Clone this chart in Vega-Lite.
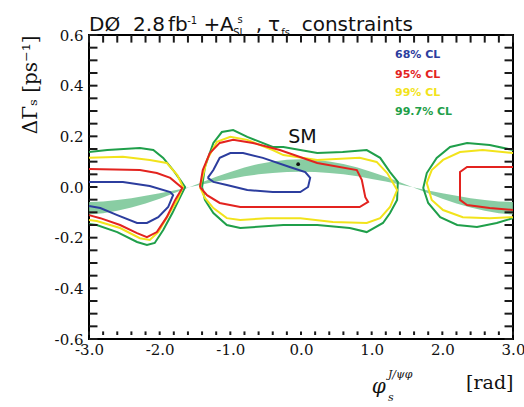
{
 "$schema": "https://vega.github.io/schema/vega-lite/v6.json",
 "width": 424, "height": 304,
 "autosize": {"type": "none"},
 "padding": {"left": 89, "top": 35, "right": 11, "bottom": 68},
 "background": "white",
 "config": {
  "view": {"stroke": "black", "strokeWidth": 2},
  "axis": {"grid": false, "domain": false, "labelFont": "DejaVu Serif", "titleFont": "DejaVu Serif", "labelColor": "#111", "titleColor": "#111", "titleFontWeight": "normal", "labelFlush": false, "labelOverlap": false},
  "text": {"font": "DejaVu Sans"}
 },
 "datasets": {
  "band": [
   {"x": -3.0, "lo": -0.059, "hi": -0.109}, {"x": -2.8, "lo": -0.057, "hi": -0.104}, {"x": -2.6, "lo": -0.051, "hi": -0.094},
   {"x": -2.4, "lo": -0.044, "hi": -0.081}, {"x": -2.2, "lo": -0.035, "hi": -0.065}, {"x": -2.0, "lo": -0.025, "hi": -0.046},
   {"x": -1.8, "lo": -0.014, "hi": -0.025}, {"x": -1.6, "lo": -0.002, "hi": -0.003}, {"x": -1.4, "lo": 0.010, "hi": 0.019},
   {"x": -1.2, "lo": 0.022, "hi": 0.040}, {"x": -1.0, "lo": 0.032, "hi": 0.059}, {"x": -0.8, "lo": 0.042, "hi": 0.077},
   {"x": -0.6, "lo": 0.050, "hi": 0.091}, {"x": -0.4, "lo": 0.055, "hi": 0.101}, {"x": -0.2, "lo": 0.059, "hi": 0.108},
   {"x": 0.0, "lo": 0.060, "hi": 0.110}, {"x": 0.2, "lo": 0.059, "hi": 0.108}, {"x": 0.4, "lo": 0.055, "hi": 0.101},
   {"x": 0.6, "lo": 0.050, "hi": 0.091}, {"x": 0.8, "lo": 0.042, "hi": 0.077}, {"x": 1.0, "lo": 0.032, "hi": 0.059},
   {"x": 1.2, "lo": 0.022, "hi": 0.040}, {"x": 1.4, "lo": 0.010, "hi": 0.019}, {"x": 1.6, "lo": -0.002, "hi": -0.003},
   {"x": 1.8, "lo": -0.014, "hi": -0.025}, {"x": 2.0, "lo": -0.025, "hi": -0.046}, {"x": 2.2, "lo": -0.035, "hi": -0.065},
   {"x": 2.4, "lo": -0.044, "hi": -0.081}, {"x": 2.6, "lo": -0.051, "hi": -0.094}, {"x": 2.8, "lo": -0.057, "hi": -0.104},
   {"x": 3.0, "lo": -0.059, "hi": -0.109}
  ],
  "xticks": [
   {"v": -3.0, "k": "major"}, {"v": -2.8, "k": "minor"}, {"v": -2.6, "k": "minor"}, {"v": -2.4, "k": "minor"}, {"v": -2.2, "k": "minor"},
   {"v": -2.0, "k": "major"}, {"v": -1.8, "k": "minor"}, {"v": -1.6, "k": "minor"}, {"v": -1.4, "k": "minor"}, {"v": -1.2, "k": "minor"},
   {"v": -1.0, "k": "major"}, {"v": -0.8, "k": "minor"}, {"v": -0.6, "k": "minor"}, {"v": -0.4, "k": "minor"}, {"v": -0.2, "k": "minor"},
   {"v": 0.0, "k": "major"}, {"v": 0.2, "k": "minor"}, {"v": 0.4, "k": "minor"}, {"v": 0.6, "k": "minor"}, {"v": 0.8, "k": "minor"},
   {"v": 1.0, "k": "major"}, {"v": 1.2, "k": "minor"}, {"v": 1.4, "k": "minor"}, {"v": 1.6, "k": "minor"}, {"v": 1.8, "k": "minor"},
   {"v": 2.0, "k": "major"}, {"v": 2.2, "k": "minor"}, {"v": 2.4, "k": "minor"}, {"v": 2.6, "k": "minor"}, {"v": 2.8, "k": "minor"},
   {"v": 3.0, "k": "major"}
  ],
  "yticks": [
   {"v": -0.6, "k": "major"}, {"v": -0.55, "k": "minor"}, {"v": -0.5, "k": "minor"}, {"v": -0.45, "k": "minor"},
   {"v": -0.4, "k": "major"}, {"v": -0.35, "k": "minor"}, {"v": -0.3, "k": "minor"}, {"v": -0.25, "k": "minor"},
   {"v": -0.2, "k": "major"}, {"v": -0.15, "k": "minor"}, {"v": -0.1, "k": "minor"}, {"v": -0.05, "k": "minor"},
   {"v": 0.0, "k": "major"}, {"v": 0.05, "k": "minor"}, {"v": 0.1, "k": "minor"}, {"v": 0.15, "k": "minor"},
   {"v": 0.2, "k": "major"}, {"v": 0.25, "k": "minor"}, {"v": 0.3, "k": "minor"}, {"v": 0.35, "k": "minor"},
   {"v": 0.4, "k": "major"}, {"v": 0.45, "k": "minor"}, {"v": 0.5, "k": "minor"}, {"v": 0.55, "k": "minor"},
   {"v": 0.6, "k": "major"}
  ],
  "contours": [
   {"s": "gL", "l": "99.7% CL", "i": 0, "x": -3.0, "y": 0.138}, {"s": "gL", "l": "99.7% CL", "i": 1, "x": -2.74, "y": 0.146},
   {"s": "gL", "l": "99.7% CL", "i": 2, "x": -2.28, "y": 0.154}, {"s": "gL", "l": "99.7% CL", "i": 3, "x": -2.09, "y": 0.146},
   {"s": "gL", "l": "99.7% CL", "i": 4, "x": -1.95, "y": 0.115}, {"s": "gL", "l": "99.7% CL", "i": 5, "x": -1.81, "y": 0.067},
   {"s": "gL", "l": "99.7% CL", "i": 6, "x": -1.71, "y": 0.028}, {"s": "gL", "l": "99.7% CL", "i": 7, "x": -1.64, "y": 0.0},
   {"s": "gL", "l": "99.7% CL", "i": 8, "x": -1.71, "y": -0.040}, {"s": "gL", "l": "99.7% CL", "i": 9, "x": -1.82, "y": -0.103},
   {"s": "gL", "l": "99.7% CL", "i": 10, "x": -1.95, "y": -0.170}, {"s": "gL", "l": "99.7% CL", "i": 11, "x": -2.07, "y": -0.221},
   {"s": "gL", "l": "99.7% CL", "i": 12, "x": -2.18, "y": -0.229}, {"s": "gL", "l": "99.7% CL", "i": 13, "x": -2.32, "y": -0.217},
   {"s": "gL", "l": "99.7% CL", "i": 14, "x": -2.60, "y": -0.178}, {"s": "gL", "l": "99.7% CL", "i": 15, "x": -2.89, "y": -0.150},
   {"s": "gL", "l": "99.7% CL", "i": 16, "x": -3.0, "y": -0.146},

   {"s": "gC", "l": "99.7% CL", "i": 0, "x": -1.40, "y": 0.0}, {"s": "gC", "l": "99.7% CL", "i": 1, "x": -1.36, "y": 0.079},
   {"s": "gC", "l": "99.7% CL", "i": 2, "x": -1.24, "y": 0.174}, {"s": "gC", "l": "99.7% CL", "i": 3, "x": -1.12, "y": 0.217},
   {"s": "gC", "l": "99.7% CL", "i": 4, "x": -0.96, "y": 0.225}, {"s": "gC", "l": "99.7% CL", "i": 5, "x": -0.76, "y": 0.198},
   {"s": "gC", "l": "99.7% CL", "i": 6, "x": -0.40, "y": 0.158}, {"s": "gC", "l": "99.7% CL", "i": 7, "x": -0.25, "y": 0.158},
   {"s": "gC", "l": "99.7% CL", "i": 8, "x": 0.23, "y": 0.134}, {"s": "gC", "l": "99.7% CL", "i": 9, "x": 0.59, "y": 0.138},
   {"s": "gC", "l": "99.7% CL", "i": 10, "x": 0.93, "y": 0.146}, {"s": "gC", "l": "99.7% CL", "i": 11, "x": 1.12, "y": 0.115},
   {"s": "gC", "l": "99.7% CL", "i": 12, "x": 1.26, "y": 0.059}, {"s": "gC", "l": "99.7% CL", "i": 13, "x": 1.37, "y": 0.020},
   {"s": "gC", "l": "99.7% CL", "i": 14, "x": 1.36, "y": -0.051}, {"s": "gC", "l": "99.7% CL", "i": 15, "x": 1.26, "y": -0.103},
   {"s": "gC", "l": "99.7% CL", "i": 16, "x": 1.16, "y": -0.142}, {"s": "gC", "l": "99.7% CL", "i": 17, "x": 0.93, "y": -0.178},
   {"s": "gC", "l": "99.7% CL", "i": 18, "x": 0.69, "y": -0.162}, {"s": "gC", "l": "99.7% CL", "i": 19, "x": 0.23, "y": -0.150},
   {"s": "gC", "l": "99.7% CL", "i": 20, "x": -0.25, "y": -0.150}, {"s": "gC", "l": "99.7% CL", "i": 21, "x": -0.86, "y": -0.162},
   {"s": "gC", "l": "99.7% CL", "i": 22, "x": -1.05, "y": -0.150}, {"s": "gC", "l": "99.7% CL", "i": 23, "x": -1.24, "y": -0.103},
   {"s": "gC", "l": "99.7% CL", "i": 24, "x": -1.36, "y": -0.051}, {"s": "gC", "l": "99.7% CL", "i": 25, "x": -1.40, "y": 0.0},

   {"s": "gR", "l": "99.7% CL", "i": 0, "x": 3.0, "y": 0.146}, {"s": "gR", "l": "99.7% CL", "i": 1, "x": 2.67, "y": 0.166},
   {"s": "gR", "l": "99.7% CL", "i": 2, "x": 2.35, "y": 0.174}, {"s": "gR", "l": "99.7% CL", "i": 3, "x": 2.11, "y": 0.158},
   {"s": "gR", "l": "99.7% CL", "i": 4, "x": 1.92, "y": 0.115}, {"s": "gR", "l": "99.7% CL", "i": 5, "x": 1.78, "y": 0.055},
   {"s": "gR", "l": "99.7% CL", "i": 6, "x": 1.73, "y": -0.004}, {"s": "gR", "l": "99.7% CL", "i": 7, "x": 1.80, "y": -0.063},
   {"s": "gR", "l": "99.7% CL", "i": 8, "x": 1.97, "y": -0.119}, {"s": "gR", "l": "99.7% CL", "i": 9, "x": 2.21, "y": -0.150},
   {"s": "gR", "l": "99.7% CL", "i": 10, "x": 2.49, "y": -0.158}, {"s": "gR", "l": "99.7% CL", "i": 11, "x": 2.77, "y": -0.142},
   {"s": "gR", "l": "99.7% CL", "i": 12, "x": 3.0, "y": -0.123},

   {"s": "yL", "l": "99% CL", "i": 0, "x": -3.0, "y": 0.115}, {"s": "yL", "l": "99% CL", "i": 1, "x": -2.52, "y": 0.119},
   {"s": "yL", "l": "99% CL", "i": 2, "x": -2.14, "y": 0.107}, {"s": "yL", "l": "99% CL", "i": 3, "x": -1.90, "y": 0.095},
   {"s": "yL", "l": "99% CL", "i": 4, "x": -1.75, "y": 0.047}, {"s": "yL", "l": "99% CL", "i": 5, "x": -1.67, "y": 0.0},
   {"s": "yL", "l": "99% CL", "i": 6, "x": -1.75, "y": -0.051}, {"s": "yL", "l": "99% CL", "i": 7, "x": -1.88, "y": -0.111},
   {"s": "yL", "l": "99% CL", "i": 8, "x": -2.02, "y": -0.178}, {"s": "yL", "l": "99% CL", "i": 9, "x": -2.14, "y": -0.209},
   {"s": "yL", "l": "99% CL", "i": 10, "x": -2.28, "y": -0.202}, {"s": "yL", "l": "99% CL", "i": 11, "x": -2.56, "y": -0.162},
   {"s": "yL", "l": "99% CL", "i": 12, "x": -2.89, "y": -0.134}, {"s": "yL", "l": "99% CL", "i": 13, "x": -3.0, "y": -0.130},

   {"s": "yC", "l": "99% CL", "i": 0, "x": -1.43, "y": 0.0}, {"s": "yC", "l": "99% CL", "i": 1, "x": -1.33, "y": 0.107},
   {"s": "yC", "l": "99% CL", "i": 2, "x": -1.19, "y": 0.178}, {"s": "yC", "l": "99% CL", "i": 3, "x": -1.00, "y": 0.198},
   {"s": "yC", "l": "99% CL", "i": 4, "x": -0.76, "y": 0.186}, {"s": "yC", "l": "99% CL", "i": 5, "x": -0.40, "y": 0.146},
   {"s": "yC", "l": "99% CL", "i": 6, "x": -0.25, "y": 0.126}, {"s": "yC", "l": "99% CL", "i": 7, "x": 0.23, "y": 0.107},
   {"s": "yC", "l": "99% CL", "i": 8, "x": 0.83, "y": 0.115}, {"s": "yC", "l": "99% CL", "i": 9, "x": 1.07, "y": 0.099},
   {"s": "yC", "l": "99% CL", "i": 10, "x": 1.22, "y": 0.055}, {"s": "yC", "l": "99% CL", "i": 11, "x": 1.36, "y": -0.012},
   {"s": "yC", "l": "99% CL", "i": 12, "x": 1.26, "y": -0.079}, {"s": "yC", "l": "99% CL", "i": 13, "x": 1.12, "y": -0.123},
   {"s": "yC", "l": "99% CL", "i": 14, "x": 0.93, "y": -0.142}, {"s": "yC", "l": "99% CL", "i": 15, "x": 0.45, "y": -0.138},
   {"s": "yC", "l": "99% CL", "i": 16, "x": -0.01, "y": -0.123}, {"s": "yC", "l": "99% CL", "i": 17, "x": -0.48, "y": -0.123},
   {"s": "yC", "l": "99% CL", "i": 18, "x": -0.86, "y": -0.130}, {"s": "yC", "l": "99% CL", "i": 19, "x": -1.05, "y": -0.123},
   {"s": "yC", "l": "99% CL", "i": 20, "x": -1.24, "y": -0.083}, {"s": "yC", "l": "99% CL", "i": 21, "x": -1.36, "y": -0.043},
   {"s": "yC", "l": "99% CL", "i": 22, "x": -1.43, "y": 0.0},

   {"s": "yR", "l": "99% CL", "i": 0, "x": 3.0, "y": 0.134}, {"s": "yR", "l": "99% CL", "i": 1, "x": 2.57, "y": 0.146},
   {"s": "yR", "l": "99% CL", "i": 2, "x": 2.25, "y": 0.138}, {"s": "yR", "l": "99% CL", "i": 3, "x": 2.01, "y": 0.107},
   {"s": "yR", "l": "99% CL", "i": 4, "x": 1.85, "y": 0.067}, {"s": "yR", "l": "99% CL", "i": 5, "x": 1.78, "y": 0.016},
   {"s": "yR", "l": "99% CL", "i": 6, "x": 1.85, "y": -0.051}, {"s": "yR", "l": "99% CL", "i": 7, "x": 2.01, "y": -0.091},
   {"s": "yR", "l": "99% CL", "i": 8, "x": 2.29, "y": -0.119}, {"s": "yR", "l": "99% CL", "i": 9, "x": 2.67, "y": -0.123},
   {"s": "yR", "l": "99% CL", "i": 10, "x": 3.0, "y": -0.119},

   {"s": "rL", "l": "95% CL", "i": 0, "x": -3.0, "y": 0.071}, {"s": "rL", "l": "95% CL", "i": 1, "x": -2.28, "y": 0.067},
   {"s": "rL", "l": "95% CL", "i": 2, "x": -2.04, "y": 0.055}, {"s": "rL", "l": "95% CL", "i": 3, "x": -1.85, "y": 0.036},
   {"s": "rL", "l": "95% CL", "i": 4, "x": -1.68, "y": -0.004}, {"s": "rL", "l": "95% CL", "i": 5, "x": -1.78, "y": -0.051},
   {"s": "rL", "l": "95% CL", "i": 6, "x": -1.90, "y": -0.119}, {"s": "rL", "l": "95% CL", "i": 7, "x": -2.04, "y": -0.178},
   {"s": "rL", "l": "95% CL", "i": 8, "x": -2.18, "y": -0.198}, {"s": "rL", "l": "95% CL", "i": 9, "x": -2.32, "y": -0.182},
   {"s": "rL", "l": "95% CL", "i": 10, "x": -2.56, "y": -0.150}, {"s": "rL", "l": "95% CL", "i": 11, "x": -2.84, "y": -0.123},
   {"s": "rL", "l": "95% CL", "i": 12, "x": -3.0, "y": -0.111},

   {"s": "rC", "l": "95% CL", "i": 0, "x": -1.43, "y": 0.0}, {"s": "rC", "l": "95% CL", "i": 1, "x": -1.39, "y": 0.067},
   {"s": "rC", "l": "95% CL", "i": 2, "x": -1.29, "y": 0.134}, {"s": "rC", "l": "95% CL", "i": 3, "x": -1.15, "y": 0.174},
   {"s": "rC", "l": "95% CL", "i": 4, "x": -0.96, "y": 0.186}, {"s": "rC", "l": "95% CL", "i": 5, "x": -0.68, "y": 0.174},
   {"s": "rC", "l": "95% CL", "i": 6, "x": -0.30, "y": 0.146}, {"s": "rC", "l": "95% CL", "i": 7, "x": 0.23, "y": 0.095},
   {"s": "rC", "l": "95% CL", "i": 8, "x": 0.79, "y": 0.067}, {"s": "rC", "l": "95% CL", "i": 9, "x": 0.86, "y": 0.028},
   {"s": "rC", "l": "95% CL", "i": 10, "x": 0.91, "y": -0.040}, {"s": "rC", "l": "95% CL", "i": 11, "x": 0.95, "y": -0.059},
   {"s": "rC", "l": "95% CL", "i": 12, "x": 0.83, "y": -0.079}, {"s": "rC", "l": "95% CL", "i": 13, "x": 0.23, "y": -0.079},
   {"s": "rC", "l": "95% CL", "i": 14, "x": -0.25, "y": -0.079}, {"s": "rC", "l": "95% CL", "i": 15, "x": -0.86, "y": -0.079},
   {"s": "rC", "l": "95% CL", "i": 16, "x": -1.15, "y": -0.063}, {"s": "rC", "l": "95% CL", "i": 17, "x": -1.33, "y": -0.032},
   {"s": "rC", "l": "95% CL", "i": 18, "x": -1.43, "y": 0.0},

   {"s": "rR", "l": "95% CL", "i": 0, "x": 3.0, "y": 0.079}, {"s": "rR", "l": "95% CL", "i": 1, "x": 2.35, "y": 0.079},
   {"s": "rR", "l": "95% CL", "i": 2, "x": 2.25, "y": 0.059}, {"s": "rR", "l": "95% CL", "i": 3, "x": 2.25, "y": -0.051},
   {"s": "rR", "l": "95% CL", "i": 4, "x": 2.35, "y": -0.071}, {"s": "rR", "l": "95% CL", "i": 5, "x": 2.67, "y": -0.083},
   {"s": "rR", "l": "95% CL", "i": 6, "x": 3.0, "y": -0.091},

   {"s": "bL", "l": "68% CL", "i": 0, "x": -3.0, "y": 0.020}, {"s": "bL", "l": "68% CL", "i": 1, "x": -2.52, "y": 0.020},
   {"s": "bL", "l": "68% CL", "i": 2, "x": -2.14, "y": 0.004}, {"s": "bL", "l": "68% CL", "i": 3, "x": -1.85, "y": -0.020},
   {"s": "bL", "l": "68% CL", "i": 4, "x": -1.81, "y": -0.032}, {"s": "bL", "l": "68% CL", "i": 5, "x": -1.88, "y": -0.079},
   {"s": "bL", "l": "68% CL", "i": 6, "x": -2.02, "y": -0.119}, {"s": "bL", "l": "68% CL", "i": 7, "x": -2.18, "y": -0.142},
   {"s": "bL", "l": "68% CL", "i": 8, "x": -2.32, "y": -0.142}, {"s": "bL", "l": "68% CL", "i": 9, "x": -2.60, "y": -0.111},
   {"s": "bL", "l": "68% CL", "i": 10, "x": -2.84, "y": -0.083}, {"s": "bL", "l": "68% CL", "i": 11, "x": -3.0, "y": -0.075},

   {"s": "bC", "l": "68% CL", "i": 0, "x": -1.32, "y": 0.036}, {"s": "bC", "l": "68% CL", "i": 1, "x": -1.24, "y": 0.067},
   {"s": "bC", "l": "68% CL", "i": 2, "x": -1.15, "y": 0.115}, {"s": "bC", "l": "68% CL", "i": 3, "x": -1.00, "y": 0.134},
   {"s": "bC", "l": "68% CL", "i": 4, "x": -0.82, "y": 0.134}, {"s": "bC", "l": "68% CL", "i": 5, "x": -0.54, "y": 0.115},
   {"s": "bC", "l": "68% CL", "i": 6, "x": -0.16, "y": 0.079}, {"s": "bC", "l": "68% CL", "i": 7, "x": 0.06, "y": 0.059},
   {"s": "bC", "l": "68% CL", "i": 8, "x": 0.13, "y": 0.036}, {"s": "bC", "l": "68% CL", "i": 9, "x": 0.10, "y": 0.0},
   {"s": "bC", "l": "68% CL", "i": 10, "x": -0.01, "y": -0.020}, {"s": "bC", "l": "68% CL", "i": 11, "x": -0.40, "y": -0.020},
   {"s": "bC", "l": "68% CL", "i": 12, "x": -0.76, "y": -0.012}, {"s": "bC", "l": "68% CL", "i": 13, "x": -1.05, "y": 0.008},
   {"s": "bC", "l": "68% CL", "i": 14, "x": -1.24, "y": 0.020}, {"s": "bC", "l": "68% CL", "i": 15, "x": -1.32, "y": 0.036}
  ],
  "legend": [
   {"l": "68% CL", "x": 1.33, "y": 0.508}, {"l": "95% CL", "x": 1.33, "y": 0.429},
   {"l": "99% CL", "x": 1.33, "y": 0.358}, {"l": "99.7% CL", "x": 1.33, "y": 0.283}
  ],
  "sm": [{"t": "SM", "x": -0.04, "y": 0.09, "tx": -0.18, "ty": 0.172}],
  "titleBig": [
   {"t": "DØ", "x": -3.0, "y": 0.617}, {"t": "2.8", "x": -2.376, "y": 0.617}, {"t": "fb", "x": -1.881, "y": 0.617},
   {"t": "+", "x": -1.38, "y": 0.617}, {"t": "A", "x": -1.146, "y": 0.617},
   {"t": ",", "x": -0.64, "y": 0.617}, {"t": "τ", "x": -0.467, "y": 0.617}, {"t": "constraints", "x": 0.01, "y": 0.617}
  ],
  "titleSmall": [
   {"t": "-1", "x": -1.61, "y": 0.644}, {"t": "s", "x": -0.90, "y": 0.648},
   {"t": "SL", "x": -0.96, "y": 0.597}, {"t": "fs", "x": -0.28, "y": 0.597}
  ],
  "phi": [{"t": "φ", "x": 1.0, "y": -0.814}],
  "phiSmall": [{"t": "J/ψφ", "x": 1.23, "y": -0.752}, {"t": "s", "x": 1.23, "y": -0.845}]
 },
 "layer": [
  {
   "data": {"name": "band"},
   "mark": {"type": "area", "color": "#74c493", "opacity": 0.85},
   "encoding": {
    "x": {"field": "x", "type": "quantitative", "scale": {"domain": [-3, 3], "nice": false, "zero": false},
      "axis": {"orient": "bottom", "values": [-3, -2, -1, 0, 1, 2, 3], "labelExpr": "replace(format(datum.value, '.1f'), '\u2212', '-')",
        "ticks": false, "labelPadding": 3, "labelFontSize": 15, "title": "[rad]", "titleAnchor": "end", "titleFontSize": 19, "titlePadding": 16}},
    "y": {"field": "lo", "type": "quantitative", "scale": {"domain": [-0.6, 0.6], "nice": false, "zero": false},
      "axis": {"orient": "left", "values": [-0.6, -0.4, -0.2, 0, 0.2, 0.4, 0.6], "labelExpr": "replace(format(datum.value, '.1f'), '\u2212', '-')",
        "ticks": false, "labelPadding": 6, "labelFontSize": 15, "title": "ΔΓₛ  [ps⁻¹]", "titleAnchor": "end", "titleFontSize": 20, "titlePadding": 14}},
    "y2": {"field": "hi"}
   }
  },
  {
   "data": {"name": "contours"},
   "mark": {"type": "line", "strokeWidth": 2},
   "encoding": {
    "x": {"field": "x", "type": "quantitative"},
    "y": {"field": "y", "type": "quantitative"},
    "color": {"field": "l", "type": "nominal", "scale": {"domain": ["68% CL", "95% CL", "99% CL", "99.7% CL"], "range": ["#2c3d9e", "#e3231f", "#f2e31b", "#1f9f4a"]}, "legend": null},
    "detail": {"field": "s"},
    "order": {"field": "i", "type": "quantitative"}
   }
  },
  {
   "data": {"name": "legend"},
   "mark": {"type": "text", "align": "left", "baseline": "alphabetic", "fontSize": 11, "fontWeight": "bold"},
   "encoding": {
    "x": {"field": "x", "type": "quantitative"},
    "y": {"field": "y", "type": "quantitative"},
    "text": {"field": "l"},
    "color": {"field": "l", "type": "nominal", "scale": {"domain": ["68% CL", "95% CL", "99% CL", "99.7% CL"], "range": ["#2c3d9e", "#e3231f", "#f2e31b", "#1f9f4a"]}, "legend": null}
   }
  },
  {
   "data": {"name": "sm"},
   "mark": {"type": "circle", "color": "#111", "size": 14, "opacity": 1},
   "encoding": {
    "x": {"field": "x", "type": "quantitative"},
    "y": {"field": "y", "type": "quantitative"}
   }
  },
  {
   "data": {"name": "sm"},
   "mark": {"type": "text", "align": "left", "baseline": "alphabetic", "fontSize": 19, "color": "#111"},
   "encoding": {
    "x": {"field": "tx", "type": "quantitative"},
    "y": {"field": "ty", "type": "quantitative"},
    "text": {"field": "t"}
   }
  },
  {
   "data": {"name": "titleBig"},
   "mark": {"type": "text", "align": "left", "baseline": "alphabetic", "fontSize": 20, "color": "#111"},
   "encoding": {
    "x": {"field": "x", "type": "quantitative"},
    "y": {"field": "y", "type": "quantitative"},
    "text": {"field": "t"}
   }
  },
  {
   "data": {"name": "titleSmall"},
   "mark": {"type": "text", "align": "left", "baseline": "alphabetic", "fontSize": 10, "color": "#111"},
   "encoding": {
    "x": {"field": "x", "type": "quantitative"},
    "y": {"field": "y", "type": "quantitative"},
    "text": {"field": "t"}
   }
  },
  {
   "data": {"name": "phi"},
   "mark": {"type": "text", "align": "left", "baseline": "alphabetic", "fontSize": 20, "font": "DejaVu Serif", "fontStyle": "italic", "color": "#111"},
   "encoding": {
    "x": {"field": "x", "type": "quantitative"},
    "y": {"field": "y", "type": "quantitative"},
    "text": {"field": "t"}
   }
  },
  {
   "data": {"name": "phiSmall"},
   "mark": {"type": "text", "align": "left", "baseline": "alphabetic", "fontSize": 11, "font": "DejaVu Serif", "fontStyle": "italic", "color": "#111"},
   "encoding": {
    "x": {"field": "x", "type": "quantitative"},
    "y": {"field": "y", "type": "quantitative"},
    "text": {"field": "t"}
   }
  },
  {
   "data": {"name": "xticks"},
   "mark": {"type": "rule", "color": "#1a1a1a", "strokeWidth": 2, "yOffset": -4},
   "encoding": {
    "x": {"field": "v", "type": "quantitative"},
    "y": {"datum": -0.6, "type": "quantitative"},
    "y2": {"datum": -0.57}
   }
  },
  {
   "data": {"name": "xticks"},
   "mark": {"type": "rule", "color": "#1a1a1a", "strokeWidth": 2},
   "encoding": {
    "x": {"field": "v", "type": "quantitative"},
    "y": {"datum": 0.6, "type": "quantitative"},
    "y2": {"datum": 0.57}
   }
  },
  {
   "data": {"name": "yticks"},
   "mark": {"type": "rule", "color": "#1a1a1a", "strokeWidth": 2},
   "encoding": {
    "y": {"field": "v", "type": "quantitative"},
    "x": {"datum": -3, "type": "quantitative"},
    "x2": {"datum": -2.88}
   }
  },
  {
   "data": {"name": "yticks"},
   "mark": {"type": "rule", "color": "#1a1a1a", "strokeWidth": 2},
   "encoding": {
    "y": {"field": "v", "type": "quantitative"},
    "x": {"datum": 3, "type": "quantitative"},
    "x2": {"datum": 2.88}
   }
  }
 ]
}
